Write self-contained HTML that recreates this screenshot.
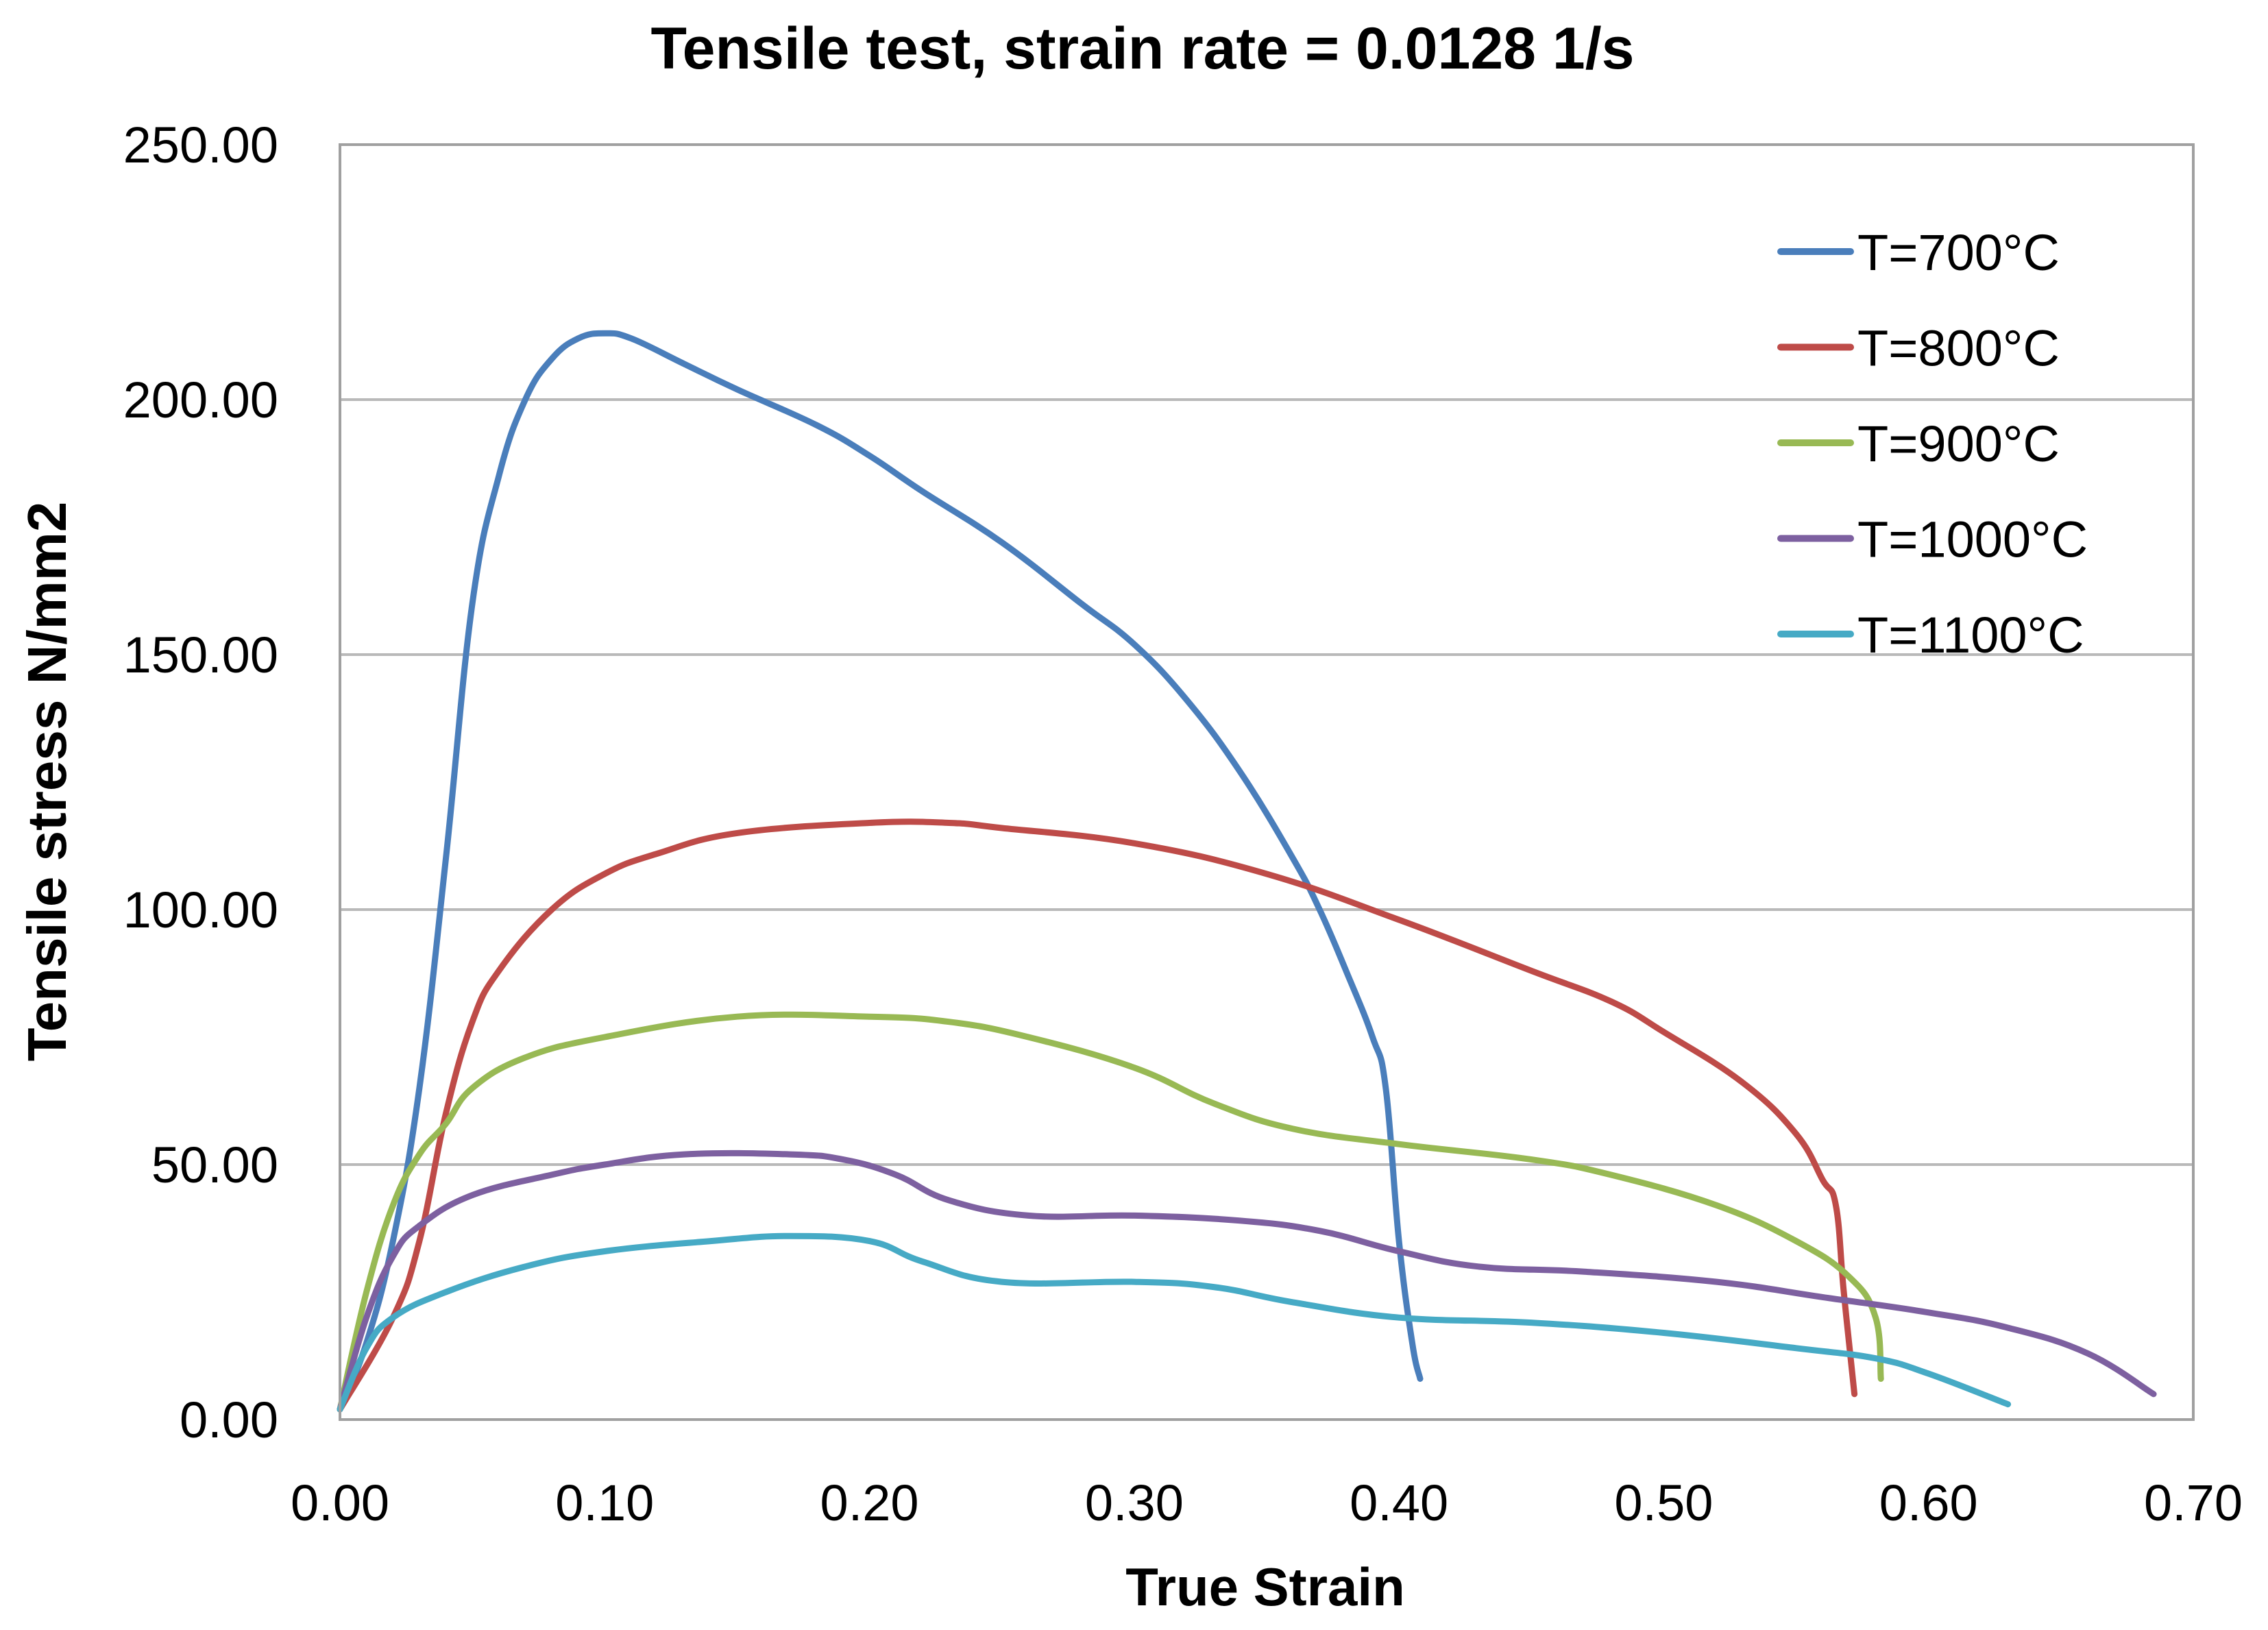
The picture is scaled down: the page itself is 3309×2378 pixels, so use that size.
<!DOCTYPE html>
<html><head><meta charset="utf-8"><style>
html,body{margin:0;padding:0;background:#fff;}
svg{display:block;font-family:"Liberation Sans",sans-serif;}
</style></head><body>
<svg id="chart" width="3309" height="2378" viewBox="0 0 3309 2378">
<text x="1667" y="100" text-anchor="middle" font-size="86" font-weight="bold" fill="#000">Tensile test, strain rate = 0.0128 1/s</text>
<g id="grid"></g>
<g id="series"></g>
<g id="axes"></g>
<g id="legend"></g>
<text x="1846" y="2342" text-anchor="middle" font-size="78" font-weight="bold">True Strain</text>
<text transform="translate(96,1140) rotate(-90)" text-anchor="middle" font-size="80" font-weight="bold">Tensile stress N/mm2</text>
</svg>
<script>
const xTicks=[0,0.1,0.2,0.3,0.4,0.5,0.6,0.7];
const yTicks=[0,50,100,150,200,250];
const seriesNames=["T=700°C","T=800°C","T=900°C","T=1000°C","T=1100°C"];
const seriesColors=["#4a7ebb","#be4b48","#98b954","#7d60a0","#46aac5"];
const s700=[[0,2],[0.01,15],[0.02,35],[0.03,65],[0.04,110],[0.05,160],[0.06,185],[0.07,200],[0.08,208],[0.09,212],[0.1,213],[0.11,212],[0.13,207],[0.15,202],[0.18,195],[0.2,189],[0.22,182],[0.25,172],[0.28,160],[0.3,152],[0.32,141],[0.34,127],[0.36,110],[0.37,100],[0.38,88],[0.39,75],[0.395,65],[0.4,35],[0.405,15],[0.408,8]];
const s800=[[0,2],[0.02,20],[0.03,35],[0.04,60],[0.05,78],[0.06,88],[0.08,100],[0.1,107],[0.12,111],[0.15,115],[0.2,117],[0.23,117],[0.25,116],[0.3,113],[0.35,107],[0.4,98],[0.45,88],[0.48,82],[0.5,76],[0.53,66],[0.55,56],[0.56,47],[0.565,42],[0.568,25],[0.572,5]];
const s900=[[0,2],[0.01,25],[0.02,42],[0.03,52],[0.04,58],[0.05,65],[0.07,71],[0.1,75],[0.15,79],[0.2,79],[0.23,78],[0.26,75],[0.3,69],[0.33,62],[0.36,57],[0.4,54],[0.45,51],[0.48,48],[0.52,42],[0.55,35],[0.57,28],[0.58,20],[0.582,8]];
const s1000=[[0,2],[0.01,20],[0.02,32],[0.03,38],[0.05,44],[0.08,48],[0.1,50],[0.13,52],[0.17,52],[0.19,51],[0.21,48],[0.23,43],[0.26,40],[0.3,40],[0.34,39],[0.37,37],[0.4,33],[0.43,30],[0.47,29],[0.52,27],[0.56,24],[0.6,21],[0.63,18],[0.66,13],[0.685,5]];
const s1100=[[0,2],[0.01,14],[0.02,20],[0.04,25],[0.07,30],[0.1,33],[0.14,35],[0.17,36],[0.2,35],[0.22,31],[0.25,27],[0.3,27],[0.33,26],[0.36,23],[0.4,20],[0.45,19],[0.5,17],[0.55,14],[0.58,12],[0.6,9],[0.63,3]];
const allSeries=[s700,s800,s900,s1000,s1100];

const NS="http://www.w3.org/2000/svg";
const X0=496,X1=3200,Y0=2071,Y1=211;
function xs(v){return X0+(v-0)/(0.7-0)*(X1-X0);}
function ys(v){return Y0-(v-0)/(250-0)*(Y0-Y1);}
function mk(tag,attrs,parent){const e=document.createElementNS(NS,tag);for(const k in attrs)e.setAttribute(k,attrs[k]);parent.appendChild(e);return e;}
function smooth(pts){
 let d='M'+pts[0][0].toFixed(1)+' '+pts[0][1].toFixed(1);
 for(let i=0;i<pts.length-1;i++){
  const p0=pts[Math.max(0,i-1)],p1=pts[i],p2=pts[i+1],p3=pts[Math.min(pts.length-1,i+2)];
  const t=0.2;
  const c1=[p1[0]+(p2[0]-p0[0])*t,p1[1]+(p2[1]-p0[1])*t];
  const c2=[p2[0]-(p3[0]-p1[0])*t,p2[1]-(p3[1]-p1[1])*t];
  d+=' C'+c1[0].toFixed(1)+' '+c1[1].toFixed(1)+' '+c2[0].toFixed(1)+' '+c2[1].toFixed(1)+' '+p2[0].toFixed(1)+' '+p2[1].toFixed(1);
 }
 return d;
}
const grid=document.getElementById('grid'),axes=document.getElementById('axes'),ser=document.getElementById('series'),leg=document.getElementById('legend');
yTicks.forEach(t=>{
 if(t>0){const l=mk('line',{x1:X0,x2:X1,y1:ys(t),y2:ys(t),stroke:'#b9b9b9','stroke-width':4},grid);
 
 }
 const tx=mk('text',{x:406,y:ys(t)+26,'text-anchor':'end','font-size':74,fill:'#000'},axes);
 tx.textContent=t.toFixed(2);
 
 
});
xTicks.forEach(t=>{
 const tx=mk('text',{x:xs(t),y:2218,'text-anchor':'middle','font-size':74,fill:'#000'},axes);
 tx.textContent=t.toFixed(2);
 
 
});
const frame=mk('rect',{x:X0,y:Y1,width:X1-X0,height:Y0-Y1,fill:'none',stroke:'#a0a0a0','stroke-width':4},axes);


allSeries.forEach((s,i)=>{
 const pts=s.map(p=>[xs(p[0]),ys(p[1])]);
 const p=mk('path',{d:smooth(pts),fill:'none',stroke:seriesColors[i],'stroke-width':9,'stroke-linejoin':'round','stroke-linecap':'round'},ser);
 
 
 const ly=367+i*139.5;
 const g=mk('g',{},leg);
 
 
 mk('line',{x1:2598,x2:2700,y1:ly,y2:ly,stroke:seriesColors[i],'stroke-width':10,'stroke-linecap':'round'},g);
 const t=mk('text',{x:2710,y:ly+27,'font-size':74,fill:'#000'},g);
 t.textContent=seriesNames[i];
});
</script>
</body></html>
